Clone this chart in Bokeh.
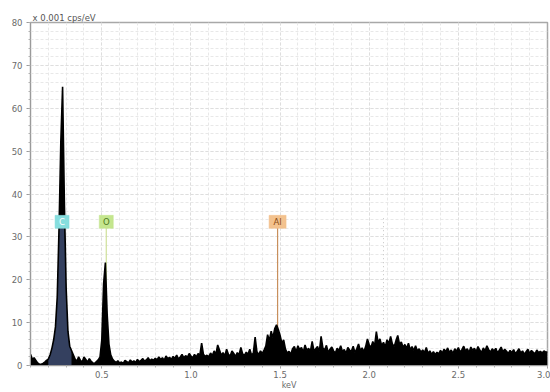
from bokeh.plotting import figure
from bokeh.models import FixedTicker, Range1d, ColumnDataSource
from bokeh.core.properties import value
from bokeh.embed import file_html
from bokeh.resources import INLINE

# ---- data ----
E_START = 0.10
E_STEP = 0.01
counts = [
    2.6, 1.5, 1.8, 1.2, 0.6, 0.3, 0.3, 0.5, 0.8, 1.2,    # 0.10
    1.5, 2.5, 4.0, 6.0, 9.0, 16, 32, 52, 65, 38,         # 0.20
    18, 8.0, 4.5, 3.5, 2.5, 1.5, 1.0, 2.0, 1.2, 0.8,     # 0.30
    2.0, 1.4, 0.8, 1.6, 1.0, 0.6, 0.5, 0.9, 1.3, 2.0,    # 0.40
    6.0, 19, 24, 12, 5.0, 2.5, 1.5, 1.0, 0.7, 1.1,       # 0.50
    0.6, 0.8, 0.5, 1.2, 0.9, 0.6, 1.3, 0.8, 1.1, 0.7,    # 0.60
    1.4, 0.9, 1.2, 1.6, 1.0, 1.3, 1.8, 1.1, 1.5, 1.2,    # 0.70
    1.7, 1.3, 2.0, 1.4, 1.8, 1.2, 2.2, 1.6, 1.9, 1.4,    # 0.80
    2.1, 1.7, 2.4, 1.5, 2.0, 2.6, 1.8, 2.3, 1.9, 2.8,    # 0.90
    2.2, 1.8, 2.6, 2.0, 2.8, 2.4, 5.2, 2.6, 2.1, 2.4,    # 1.00
    2.0, 2.9, 2.3, 3.4, 2.6, 4.8, 3.6, 2.4, 3.0, 2.2,    # 1.10
    3.8, 2.6, 2.2, 3.4, 2.8, 2.1, 3.0, 2.5, 4.2, 2.7,    # 1.20
    2.3, 3.1, 2.6, 3.8, 2.4, 2.9, 6.6, 3.2, 2.5, 3.4,    # 1.30
    2.8, 3.6, 4.5, 7.2, 5.8, 8.0, 6.5, 8.6, 9.5, 8.4,    # 1.40
    7.0, 5.2, 6.0, 3.8, 2.9, 3.3, 2.6, 3.9, 4.4, 3.2,    # 1.50
    4.6, 3.7, 4.2, 3.1, 4.8, 3.5, 4.0, 3.3, 5.6, 3.4,    # 1.60
    3.9, 4.4, 3.2, 6.8, 4.1, 3.6, 4.7, 3.0, 3.8, 4.3,    # 1.70
    3.4, 2.9, 4.0, 3.5, 4.6, 3.2, 3.7, 2.8, 4.2, 3.6,    # 1.80
    3.3, 4.5, 3.0, 3.9, 5.0, 3.5, 4.1, 3.2, 4.4, 6.2,    # 1.90
    4.8, 4.2, 5.6, 4.5, 7.9, 5.3, 6.2, 4.6, 5.4, 4.3,    # 2.00
    6.0, 5.1, 6.8, 5.0, 4.4, 5.8, 7.0, 4.9, 5.5, 4.2,    # 2.10
    4.9, 4.0, 5.2, 3.7, 4.4, 3.5, 4.6, 3.4, 3.9, 3.1,    # 2.20
    3.6, 3.0, 4.2, 2.8, 3.4, 2.6, 3.2, 2.5, 3.1, 2.7,    # 2.30
    3.5, 2.9, 3.8, 3.2, 4.1, 3.0, 3.6, 2.8, 3.9, 3.3,    # 2.40
    4.2, 3.1, 3.7, 4.5, 3.4, 3.9, 3.0, 4.3, 3.5, 4.0,    # 2.50
    3.2, 4.4, 3.6, 3.0, 4.1, 3.4, 4.6, 3.7, 3.1, 3.9,    # 2.60
    3.4, 4.0, 2.9, 3.6, 4.3, 3.1, 3.8, 3.3, 2.8, 3.5,    # 2.70
    3.0, 3.7, 2.7, 3.3, 3.9, 2.9, 3.4, 2.6, 3.2, 3.8,    # 2.80
    2.8, 3.5, 3.1, 2.7, 3.6, 3.0, 3.3, 2.9, 3.4, 3.1,    # 2.90
    3.2,                                                 # 3.00
]
energy = [round(E_START + i * E_STEP, 2) for i in range(len(counts))]

elements = ["C", "O", "Al"]
element_energy = [0.277, 0.525, 1.486]
element_label_y = [33.5, 33.5, 33.5]
element_fill = ["#86dede", "#c4e68e", "#f3c28e"]
element_text = ["#ffffff", "#4d7a1e", "#8a4a12"]
element_line = ["#86dede", "#cfe09a", "#c88f5c"]

c_peak_range = (0.20, 0.33)
c_cap = 33.5

x_major = [0.5, 1.0, 1.5, 2.0, 2.5, 3.0]
y_major = [0, 10, 20, 30, 40, 50, 60, 70, 80]
unit_text = "x 0.001 cps/eV"
x_label = "keV"

# ---- figure ----
p = figure(width=550, height=392, output_backend="svg", toolbar_location=None,
           x_range=Range1d(0.1, 3.0), y_range=Range1d(0, 80),
           min_border_left=30, min_border_right=3, min_border_top=22,
           min_border_bottom=24, title=unit_text, x_axis_label=x_label)
p.title.text_font = "DejaVu Sans"
p.title.text_font_size = "8.5px"
p.title.text_font_style = "normal"
p.title.text_color = "#555555"
p.title.align = "left"
p.title.standoff = 0
p.title.offset = 2
p.background_fill_color = "white"
p.border_fill_color = "white"
p.outline_line_color = "#a8a8a8"
p.outline_line_width = 1.5

x_minor = [round(0.1 * i, 1) for i in range(1, 31)]
y_minor = list(range(0, 81, 2))
p.xaxis.ticker = FixedTicker(ticks=x_major, minor_ticks=x_minor)
p.yaxis.ticker = FixedTicker(ticks=y_major, minor_ticks=y_minor)
p.xaxis.major_label_overrides = {v: f"{v:.1f}" for v in x_major}

for ax in (p.xaxis[0], p.yaxis[0]):
    ax.axis_line_color = "#9a9a9a"
    ax.major_tick_line_color = "#9a9a9a"
    ax.minor_tick_line_color = "#b0b0b0"
    ax.major_tick_out = 4
    ax.major_tick_in = 0
    ax.minor_tick_out = 2
    ax.minor_tick_in = 0
    ax.major_label_text_font = "DejaVu Sans"
    ax.major_label_text_font_size = "8.5px"
    ax.major_label_text_color = "#6a6a6a"
    ax.major_label_standoff = 3
p.xaxis.major_tick_out = 3
p.xaxis.major_label_standoff = 2
p.yaxis.major_label_standoff = 4
p.xaxis.axis_label_text_font = "DejaVu Sans"
p.xaxis.axis_label_text_font_size = "8px"
p.xaxis.axis_label_text_font_style = "normal"
p.xaxis.axis_label_text_color = "#6a6a6a"
p.xaxis.axis_label_standoff = 0

for g in (p.xgrid[0], p.ygrid[0]):
    g.grid_line_color = "#dedede"
    g.grid_line_dash = "3 2"
    g.minor_grid_line_color = "#e8e8e8"
    g.minor_grid_line_dash = "3 2"

# element marker stems (drawn first so the spectrum covers them)
p.segment(x0=element_energy, y0=[0, 0, 0], x1=element_energy, y1=element_label_y,
          line_color=element_line, line_width=1.2)

# spectrum
src = ColumnDataSource(dict(x=energy, y=counts))
p.varea(x="x", y1=0, y2="y", source=src, fill_color="black")

# carbon peak fill
cx = [e for e in energy if c_peak_range[0] <= e <= c_peak_range[1]]
cy = [min(c, c_cap) for e, c in zip(energy, counts) if c_peak_range[0] <= e <= c_peak_range[1]]
p.varea(x=cx, y1=0, y2=cy, fill_color="#34405f")

p.line(x="x", y="y", source=src, line_color="black", line_width=1.6)

# faint marker line
p.segment(x0=[2.08], y0=[8], x1=[2.08], y1=[35], line_color="#c4c4c4",
          line_dash="1 3", line_width=1)

# element labels
widths = [14, 14, 17]
p.rect(x=element_energy, y=element_label_y, width=widths, height=[13, 13, 13],
       width_units="screen", height_units="screen",
       fill_color=element_fill, line_color=element_fill, line_alpha=0.5)
p.text(x=element_energy, y=element_label_y, text=elements,
       text_color=element_text, text_font=value("DejaVu Sans"),
       text_font_size="8.5px", text_align="center", text_baseline="middle")

open("out.html", "w").write(file_html(p, INLINE))
